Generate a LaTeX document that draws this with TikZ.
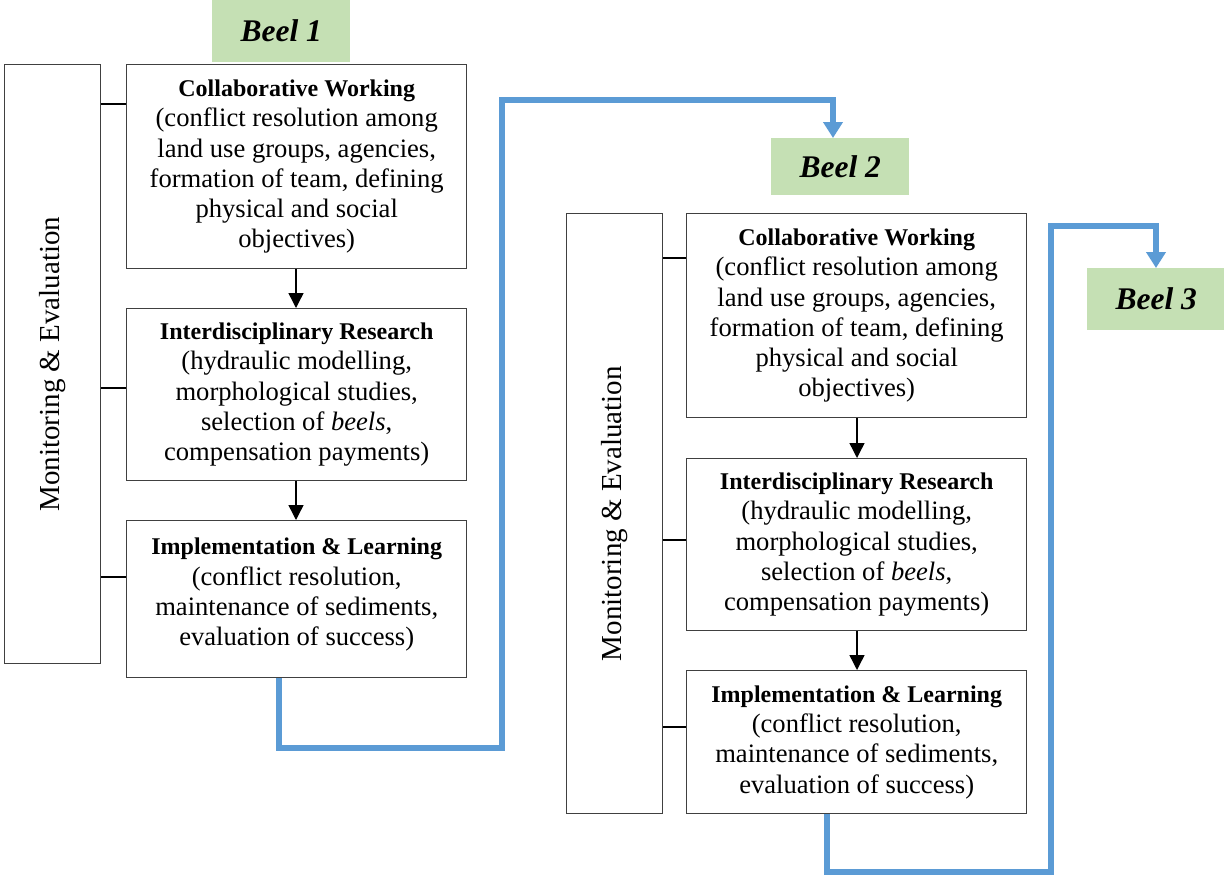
\documentclass[tikz,border=0pt]{standalone}
\usepackage{fontspec}
\setmainfont{Liberation Serif}
\usetikzlibrary{arrows.meta}
\definecolor{flowblue}{HTML}{5B9BD5}
\definecolor{beelgreen}{HTML}{C5E0B4}
\definecolor{edgegray}{HTML}{404040}
\newcommand{\hdr}[1]{{\fontsize{24}{30.3}\selectfont\bfseries #1}}
\tikzset{
  stagebox/.style={draw=edgegray, line width=1.4pt, minimum width=340pt, align=center, inner sep=0pt, anchor=north west, font=\fontsize{26.6}{30.3}\selectfont},
  mebox/.style={draw=edgegray, line width=1.4pt, minimum width=96pt, anchor=north west, inner sep=0pt},
  metext/.style={rotate=90, font=\fontsize{29}{33}\selectfont},
  beel/.style={fill=beelgreen, minimum width=138pt, anchor=north west, inner sep=0pt, font=\fontsize{31.5}{36}\selectfont\bfseries\itshape},
  stub/.style={line width=1.4pt, black},
  downarrow/.style={line width=1.4pt, -{Triangle[width=15pt,length=15pt]}},
  flow/.style={line width=6pt, flowblue, -{Triangle[width=19pt,length=16pt]}}
}
\begin{document}
\begin{tikzpicture}[x=1pt,y=-1pt]
\useasboundingbox (0,0) rectangle (1224,879);
% Stage 1
\node[beel, minimum height=62pt] (beel1) at (212,0) {Beel 1};
\node[mebox, minimum height=599pt] (me1) at (4,64) {};
\node[metext] (me1t) at (me1.center) {Monitoring \& Evaluation};
\node[stagebox, minimum height=204pt] (a1) at (126,64) {\hdr{Collaborative Working}\\(conflict resolution among\\land use groups, agencies,\\formation of team, defining\\physical and social\\objectives)};
\node[stagebox, minimum height=172pt] (b1) at (126,308) {\hdr{Interdisciplinary Research}\\(hydraulic modelling,\\morphological studies,\\selection of \textit{beels},\\compensation payments)};
\node[stagebox, minimum height=157pt] (c1) at (126,520) {\hdr{Implementation \& Learning}\\(conflict resolution,\\maintenance of sediments,\\evaluation of success)\\[-16pt]};
\draw[stub] (me1.east |- 0,104) -- (a1.west |- 0,104);
\draw[stub] (me1.east |- 0,388) -- (b1.west |- 0,388);
\draw[stub] (me1.east |- 0,577) -- (c1.west |- 0,577);
\draw[downarrow] (a1.south -| 296,0) -- (b1.north -| 296,0);
\draw[downarrow] (b1.south -| 296,0) -- (c1.north -| 296,0);
% Stage 2
\node[beel, minimum height=57pt] (beel2) at (771,138) {Beel 2};
\node[mebox, minimum height=600pt] (me2) at (566,213) {};
\node[metext] (me2t) at (me2.center) {Monitoring \& Evaluation};
\node[stagebox, minimum height=204pt] (a2) at (686,213) {\hdr{Collaborative Working}\\(conflict resolution among\\land use groups, agencies,\\formation of team, defining\\physical and social\\objectives)};
\node[stagebox, minimum height=172pt] (b2) at (686,458) {\hdr{Interdisciplinary Research}\\(hydraulic modelling,\\morphological studies,\\selection of \textit{beels},\\compensation payments)};
\node[stagebox, minimum height=143pt] (c2) at (686,670) {\hdr{Implementation \& Learning}\\(conflict resolution,\\maintenance of sediments,\\evaluation of success)};
\draw[stub] (me2.east |- 0,258) -- (a2.west |- 0,258);
\draw[stub] (me2.east |- 0,540) -- (b2.west |- 0,540);
\draw[stub] (me2.east |- 0,727) -- (c2.west |- 0,727);
\draw[downarrow] (a2.south -| 857,0) -- (b2.north -| 857,0);
\draw[downarrow] (b2.south -| 857,0) -- (c2.north -| 857,0);
% Stage 3
\node[beel, minimum height=62pt] (beel3) at (1087,268) {Beel 3};
% Flow connectors
\coordinate (f1a) at (502,748);
\coordinate (f1b) at (833,100);
\draw[flow] (c1.south -| 279,0) |- (f1a) |- (f1b) -- (beel2.north -| f1b);
\coordinate (f2a) at (1051,872);
\coordinate (f2b) at (1156,226);
\draw[flow] (c2.south -| 827,0) |- (f2a) |- (f2b) -- (beel3.north -| f2b);
\end{tikzpicture}
\end{document}
